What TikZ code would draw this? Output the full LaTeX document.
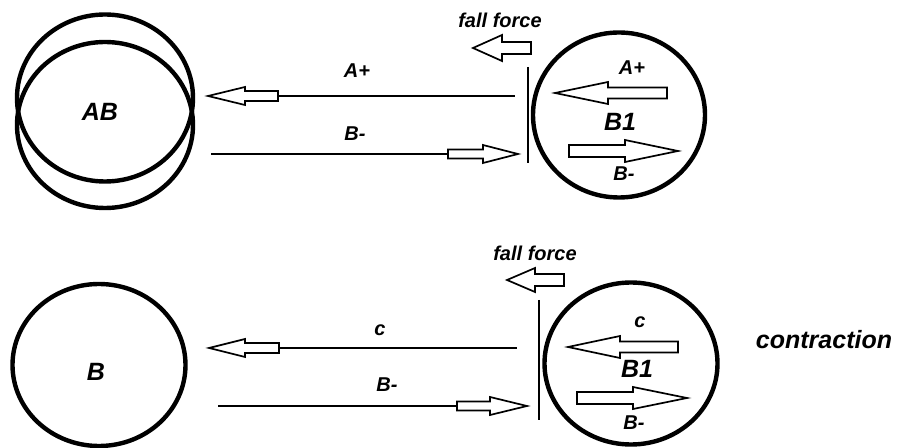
\documentclass[tikz,border=0pt]{standalone}
\usepackage{fontspec}
\setmainfont{Liberation Sans}
\usetikzlibrary{shapes.geometric}
\newcommand\hollowarrow[6]{%
  \draw[blockarrow] (#1,#4) -- (#2,{#4-#6}) -- (#2,{#4-#5}) -- (#3,{#4-#5})
    -- (#3,{#4+#5}) -- (#2,{#4+#5}) -- (#2,{#4+#6}) -- cycle;}
\begin{document}
\begin{tikzpicture}[x=0.5pt, y=-0.5pt,
  ball/.style={draw, ellipse, line width=2.2pt, inner sep=0pt},
  rod/.style={line width=1pt},
  blockarrow/.style={draw, fill=white, line width=0.85pt, line join=miter},
  lbl/.style={font=\fontsize{10}{12}\selectfont\bfseries\itshape},
  big/.style={font=\fontsize{12.5}{14}\selectfont\bfseries\itshape}]
  \useasboundingbox (0,0) rectangle (899,448);

  \node[ball, minimum width=88pt, minimum height=83.5pt] (AB1) at (105,98) {};
  \node[ball, minimum width=88pt, minimum height=83pt] (AB2) at (105,125) {};
  \node[big] (ABtxt) at (100,112) {AB};
  \node[ball, minimum width=86pt, minimum height=82.5pt] (B1top) at (619,115) {};
  \node[big] (B1toptxt) at (620,122) {B1};
  \coordinate (wallA1) at (528,67);
  \coordinate (wallA2) at (528,163);
  \draw[rod] (wallA1) -- (wallA2);
  \coordinate (Aplus) at (278,96);
  \coordinate (Aend) at (515,96);
  \draw[rod] (Aplus) -- (Aend);
  \hollowarrow{208}{245}{278}{96}{5}{9}
  \coordinate (Bstart) at (211,154);
  \coordinate (Bminus) at (448,154);
  \draw[rod] (Bstart) -- (Bminus);
  \hollowarrow{518}{483}{448}{154}{4.5}{9}
  \hollowarrow{473}{502}{531}{48}{6}{13}
  \hollowarrow{555}{608}{667}{93}{5.5}{11}
  \hollowarrow{678}{625}{569}{151}{6}{11}
  \node[lbl] (fallA) at (500,20) {fall force};
  \node[lbl] (ApA) at (357,71) {A+};
  \node[lbl] (BmA) at (355,134) {B-};
  \node[lbl] (ApB1) at (632,68) {A+};
  \node[lbl] (BmB1) at (624,174) {B-};

  \node[ball, minimum width=86.5pt, minimum height=81pt] (Bbot) at (99,365) {};
  \node[big] (Btxt) at (96,372) {B};
  \node[ball, minimum width=86.5pt, minimum height=81pt] (B1bot) at (631,363.5) {};
  \node[big] (B1bottxt) at (637,369) {B1};
  \coordinate (wallB1) at (539,300);
  \coordinate (wallB2) at (539,420);
  \draw[rod] (wallB1) -- (wallB2);
  \coordinate (Cplus) at (279,348);
  \coordinate (Cend) at (517,348);
  \draw[rod] (Cplus) -- (Cend);
  \hollowarrow{209}{245}{279}{348}{5}{9}
  \coordinate (Bstart2) at (218,406);
  \coordinate (Bminus2) at (457,406);
  \draw[rod] (Bstart2) -- (Bminus2);
  \hollowarrow{527}{490}{457}{406}{4.5}{9}
  \hollowarrow{507}{535}{564}{280}{6}{12}
  \hollowarrow{568}{620}{678}{347}{5.5}{11}
  \hollowarrow{687}{633}{577}{398}{6}{11}
  \node[lbl] (fallB) at (535,253) {fall force};
  \node[lbl] (cB) at (380,330) {c};
  \node[lbl] (BmB) at (387,385) {B-};
  \node[lbl] (cB1) at (640,322) {c};
  \node[lbl] (BmB1b) at (634,423) {B-};
  \node[big] (contr) at (824,340) {contraction};
\end{tikzpicture}
\end{document}
